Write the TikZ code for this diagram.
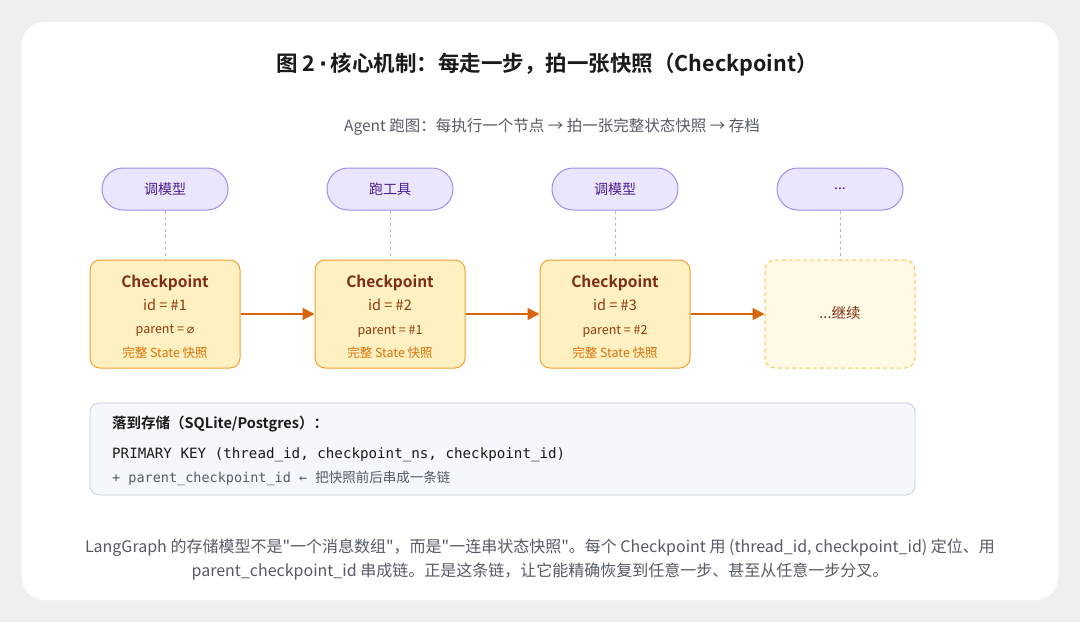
\documentclass[tikz,border=0pt]{standalone}
\usepackage{fontspec}
\setmainfont{Noto Sans CJK SC}[BoldFont={Noto Sans CJK SC Bold}]
\setmonofont{DejaVu Sans Mono}
\newfontfamily\symfont{DejaVu Sans}
\newfontfamily\capfont{Noto Sans CJK SC}
\usetikzlibrary{positioning,arrows.meta}

\definecolor{pagebg}{HTML}{EFEFEF}
\definecolor{titlecol}{HTML}{1A1A1A}
\definecolor{greytext}{HTML}{555B66}
\definecolor{pillfill}{HTML}{EAE6FD}
\definecolor{pilldraw}{HTML}{A48BF5}
\definecolor{pilltext}{HTML}{4C1D95}
\definecolor{cpfill}{HTML}{FEF0C0}
\definecolor{cpdraw}{HTML}{F5A033}
\definecolor{cptext}{HTML}{7C2D12}
\definecolor{cpnote}{HTML}{D9740B}
\definecolor{nextfill}{HTML}{FFF9E5}
\definecolor{nextdraw}{HTML}{F8C94A}
\definecolor{flowcol}{HTML}{D9650B}
\definecolor{storefill}{HTML}{F4F7FB}
\definecolor{storedraw}{HTML}{C5D0DC}

\tikzset{
	pill/.style={draw=pilldraw, fill=pillfill, line width=1pt, rounded corners=21pt,
		minimum width=126pt, minimum height=42pt, text=pilltext, font=\fontsize{14}{16}\selectfont},
	cpbox/.style={draw=cpdraw, fill=cpfill, line width=1pt, rounded corners=10pt,
		minimum width=150pt, minimum height=108pt},
	nextbox/.style={cpbox, draw=nextdraw, fill=nextfill, dashed, dash pattern=on 4pt off 3pt},
	cptitle/.style={text=cptext, font=\bfseries\fontsize{15.5}{17}\selectfont},
	cpid/.style={text=cptext!85!orange, font=\fontsize{14.5}{16}\selectfont},
	cpparent/.style={text=cptext!85!orange, font=\fontsize{12.5}{14}\selectfont},
	cpnote/.style={text=cpnote, font=\fontsize{12.5}{14}\selectfont},
	link/.style={draw=pilldraw!70, dashed, dash pattern=on 3pt off 3pt, line width=0.8pt},
	flow/.style={draw=flowcol, line width=1.8pt, -{Triangle[length=12pt,width=12pt]}},
}

\begin{document}
\begin{tikzpicture}[x=1pt,y=-1pt,inner sep=0pt]

	\useasboundingbox (0,0) rectangle (1080,622);
	\fill[pagebg] (0,0) rectangle (1080,622);
	% card with a soft shadow
	\fill[black!6, rounded corners=22pt] (20,24) rectangle (1060,604);
	\fill[white, rounded corners=22pt] (22,22) rectangle (1058,600);

	\node[text=titlecol, font=\bfseries\fontsize{21.5}{24}\selectfont] (title) at (547,65)
		{图 2{\symfont\,·\,}核心机制：每走一步，拍一张快照（Checkpoint）};
	\node[text=greytext, font=\fontsize{15.5}{18}\selectfont] (subtitle) at (552,127)
		{Agent 跑图：每执行一个节点 → 拍一张完整状态快照 → 存档};

	% nodes that run
	\node[pill] (run1) at (165,189) {调模型};
	\node[pill] (run2) at (390,189) {跑工具};
	\node[pill] (run3) at (615,189) {调模型};
	\node[pill] (run4) at (840,189) {\raisebox{-2pt}{...}};

	% checkpoints
	\node[cpbox] (cp1) at (165,314) {};
	\node[cpbox] (cp2) at (390,314) {};
	\node[cpbox] (cp3) at (615,314) {};
	\node[nextbox] (cp4) at (840,314) {};

	\node[cptitle] (cp1t) at (165,283) {Checkpoint};
	\node[cpid] (cp1i) at (165,305) {id = \#1};
	\node[cpparent] (cp1p) at (165,331) {parent = {\symfont ⌀}};
	\node[cpnote] (cp1n) at (165,353) {完整 State 快照};

	\node[cptitle] (cp2t) at (390,283) {Checkpoint};
	\node[cpid] (cp2i) at (390,305) {id = \#2};
	\node[cpparent] (cp2p) at (390,331) {parent = \#1};
	\node[cpnote] (cp2n) at (390,353) {完整 State 快照};

	\node[cptitle] (cp3t) at (615,283) {Checkpoint};
	\node[cpid] (cp3i) at (615,305) {id = \#3};
	\node[cpparent] (cp3p) at (615,331) {parent = \#2};
	\node[cpnote] (cp3n) at (615,353) {完整 State 快照};

	\node[cpid, text=cptext] (cp4t) at (840,313) {...继续};

	\draw[link] (run1) -- (cp1);
	\draw[link] (run2) -- (cp2);
	\draw[link] (run3) -- (cp3);
	\draw[link] (run4) -- (cp4);

	\draw[flow] (cp1) -- (cp2);
	\draw[flow] (cp2) -- (cp3);
	\draw[flow] (cp3) -- (cp4);

	% storage
	\node[draw=storedraw, fill=storefill, line width=0.8pt, rounded corners=9pt,
		minimum width=825pt, minimum height=92pt] (store) at (502.5,449) {};
	\node[anchor=west, text=titlecol, font=\bfseries\fontsize{14.5}{16}\selectfont] (storet) at (112,424)
		{落到存储（SQLite/Postgres）：};
	\node[anchor=west, text=titlecol, font=\ttfamily\fontsize{14.2}{16}\selectfont] (storek) at (112,455)
		{PRIMARY KEY (thread\_id, checkpoint\_ns, checkpoint\_id)};
	\node[anchor=west, text=greytext, font=\fontsize{13.5}{15}\selectfont] (storep) at (112,478)
		{{\ttfamily + parent\_checkpoint\_id ← }把快照前后串成一条链};

	% caption
	\node[text=greytext, font=\capfont\fontsize{16}{24}\selectfont, align=center] (caption) at (540,560)
		{LangGraph 的存储模型不是"一个消息数组"，而是"一连串状态快照"。每个 Checkpoint 用 (thread\_id, checkpoint\_id) 定位、用\\
		parent\_checkpoint\_id 串成链。正是这条链，让它能精确恢复到任意一步、甚至从任意一步分叉。};

\end{tikzpicture}
\end{document}
